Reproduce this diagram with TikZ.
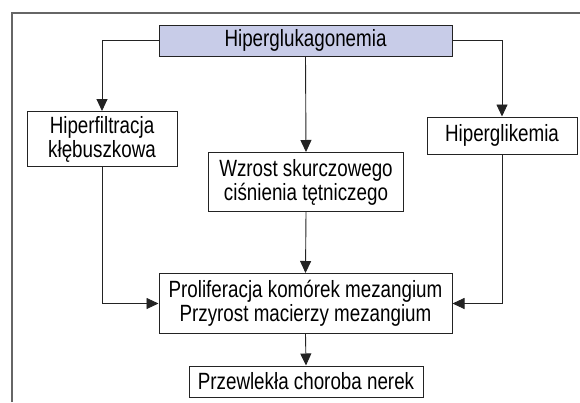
\documentclass[tikz,border=0pt]{standalone}
\usepackage{fontspec}
\setmainfont{Liberation Sans}[FakeStretch=0.8]
\usetikzlibrary{arrows.meta, positioning, calc}

\definecolor{hdrfill}{RGB}{200,204,232}
\definecolor{linegray}{RGB}{35,35,35}

\begin{document}
\begin{tikzpicture}[
        x=1pt, y=-1pt,
        box/.style={draw=linegray, line width=1pt, align=center, inner sep=0pt,
            font=\fontsize{23.5}{24}\selectfont},
        arr/.style={-{Triangle[length=12pt, width=11pt]}, line width=0.9pt, draw=linegray},
        frame/.style={draw=gray!80!black, line width=1.8pt}
    ]
        \useasboundingbox (0,0) rectangle (580,402);

        \node[box, fill=hdrfill, minimum width=293pt, minimum height=31pt] (hiperglukagon) at (305.5,40.5) {Hiperglukagonemia};

        \node[box, minimum width=150pt, minimum height=55pt] (hiperfiltr) at (102,139) {Hiperfiltracja\\kłębuszkowa};
        \node[box, minimum width=195pt, minimum height=59pt] (cisnienie) at (306,182) {Wzrost skurczowego\\ciśnienia tętniczego};
        \node[box, minimum width=150pt, minimum height=37pt] (hiperglik) at (502,135.5) {Hiperglikemia};

        \node[box, minimum width=293pt, minimum height=60pt] (mezangium) at (305.5,303.5) {Proliferacja komórek mezangium\\Przyrost macierzy mezangium};
        \node[box, minimum width=234pt, minimum height=31pt] (nerki) at (306,381.5) {Przewlekła choroba nerek};

        \draw[frame] (12,402) -- (12,13) -- (580,13);

        \draw[arr] (hiperglukagon.west) -| (hiperfiltr.north);
        \draw[arr] (hiperglukagon.east) -| (hiperglik.north);
        \draw[arr] (hiperglukagon.south) -- (cisnienie.north);
        \draw[arr] (cisnienie.south) -- (mezangium.north);
        \draw[arr] (hiperfiltr.south) |- (mezangium.west);
        \draw[arr] (hiperglik.south) |- (mezangium.east);
        \draw[arr] (mezangium.south) -- (nerki.north);
    \end{tikzpicture}
\end{document}
